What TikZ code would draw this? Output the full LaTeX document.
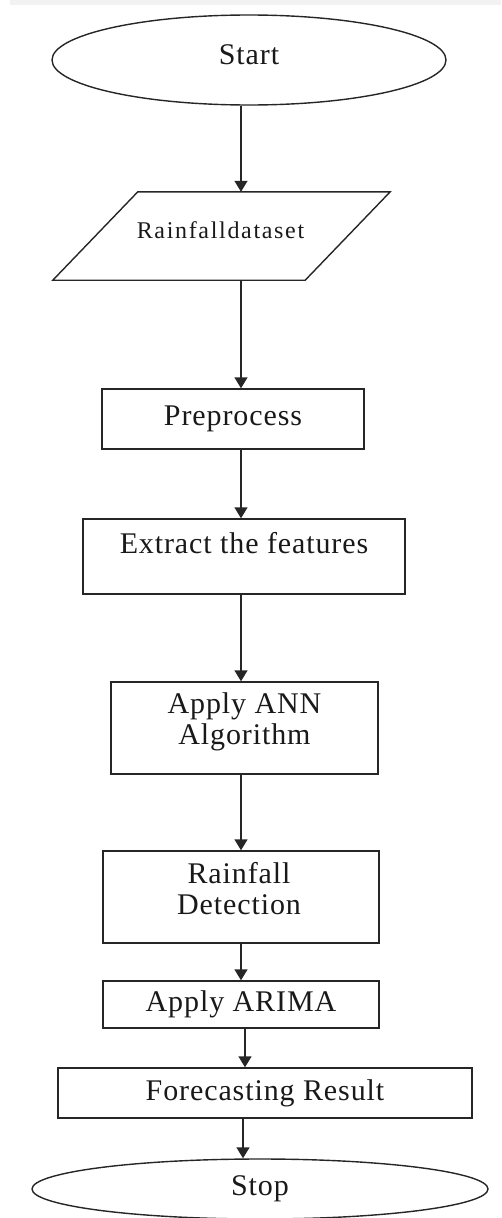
\documentclass[tikz,border=0pt]{standalone}
\usepackage{fontspec}
\setmainfont[LetterSpace=3]{Liberation Serif}
\newfontfamily\datafont[LetterSpace=7]{Liberation Serif}
\usetikzlibrary{shapes.geometric,arrows.meta}
\begin{document}
\begin{tikzpicture}[x=1pt,y=-1pt,
  line/.style={draw=black!85, line width=1.4pt},
  txt/.style={font=\fontsize{30}{31}\selectfont, align=center, inner sep=0pt, text=black!90},
  dtxt/.style={font=\datafont\fontsize{24}{26}\selectfont, inner sep=0pt, text=black!90},
  box/.style={line, rectangle, inner sep=0pt, txt},
  term/.style={line, ellipse, inner sep=0pt, txt},
  arr/.style={line, -{Triangle[length=11pt,width=13pt]}}]
\useasboundingbox (0,0) rectangle (501,1218);
\fill[black!5] (10,0) rectangle (501,5);

\node[term, minimum width=394pt, minimum height=90pt,
      label={[txt, yshift=5pt]center:Start}] (start) at (249,60) {};
\node[inner sep=0pt, minimum width=252pt, minimum height=88pt,
      label={[dtxt, yshift=6pt, xshift=-1pt]center:Rainfalldataset}] (data) at (221.5,236) {};
\draw[line] ([xshift=42.5pt]data.north west) -- ([xshift=42.5pt]data.north east)
  -- ([xshift=-42.5pt]data.south east) -- ([xshift=-42.5pt]data.south west) -- cycle;

\node[box, minimum width=262pt, minimum height=60pt] (pre) at (233,419) {Preprocess};
\node[box, minimum width=322pt, minimum height=75pt,
      label={[txt, yshift=13.5pt]center:Extract the features}] (ext) at (244,556.5) {};
\node[box, minimum width=267pt, minimum height=92pt,
      label={[txt, yshift=6pt]center:Apply ANN\\Algorithm}] (ann) at (244.5,728) {};
\node[box, minimum width=276pt, minimum height=92pt,
      label={[txt, yshift=8pt, xshift=-2pt]center:Rainfall\\Detection}] (det) at (241,897) {};
\node[box, minimum width=276pt, minimum height=47pt] (ari) at (241,1004.5) {Apply ARIMA};
\node[box, minimum width=414pt, minimum height=50pt] (fore) at (265,1093) {Forecasting Result};
\node[term, minimum width=456pt, minimum height=60pt] (stop) at (260,1189) {Stop};

\coordinate (s1) at (241,0);
\coordinate (s2) at (245,0);
\coordinate (s3) at (243,0);
\draw[arr] (s1 |- start.south) -- (s1 |- data.north);
\draw[arr] (s1 |- data.south) -- (s1 |- pre.north);
\draw[arr] (s1 |- pre.south) -- (s1 |- ext.north);
\draw[arr] (s1 |- ext.south) -- (s1 |- ann.north);
\draw[arr] (s1 |- ann.south) -- (s1 |- det.north);
\draw[arr] (s1 |- det.south) -- (s1 |- ari.north);
\draw[arr] (s2 |- ari.south) -- (s2 |- fore.north);
\draw[arr] (s3 |- fore.south) -- (s3 |- stop.north);
\end{tikzpicture}
\end{document}
